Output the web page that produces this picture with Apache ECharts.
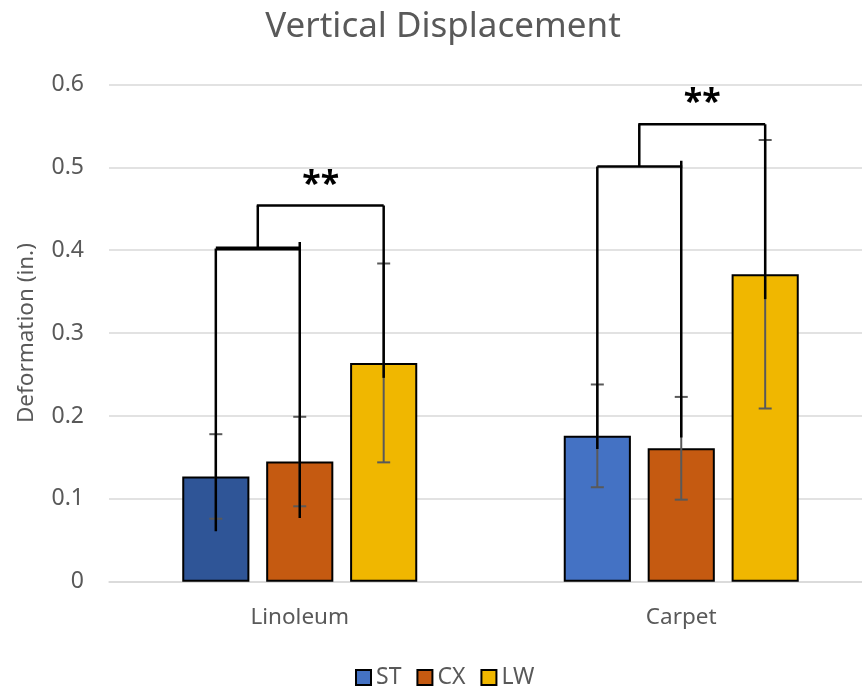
<!DOCTYPE html>
<html>
<head>
<meta charset="utf-8">
<script src="https://cdn.jsdelivr.net/npm/echarts@6/dist/echarts.min.js"></script>
<style>
  html, body { margin: 0; padding: 0; background: #ffffff; }
  #chart { width: 862px; height: 689px; }
</style>
</head>
<body>
<div id="chart"></div>
<script>
// Surface categories and series
const categories = ['Linoleum', 'Carpet'];
const seriesNames = ['ST', 'CX', 'LW'];

// Mean deformation (in.) per surface
const stValues = [0.127, 0.176];
const cxValues = [0.145, 0.161];
const lwValues = [0.264, 0.371];

// Standard deviations (error bar half-lengths)
const stErrors = [0.051, 0.062];
const cxErrors = [0.054, 0.062];
const lwErrors = [0.120, 0.162];

// Y axis ticks
const yTicks = [0, 0.1, 0.2, 0.3, 0.4, 0.5, 0.6];

// Significance brackets, one per surface (values in inches)
const legBottoms = [[0.061, 0.077, 0.246], [0.160, 0.174, 0.341]]; // lower ends of ST, CX, LW legs
const cxLegTops = [0.410, 0.508];   // CX leg pokes slightly above the join
const innerLevels = [0.402, 0.501]; // ST–CX join
const outerLevels = [0.454, 0.552]; // join to LW
const starLevels = [0.478, 0.577];
const starLabels = ['**', '**'];

// Bar layout (shared by bars, error bars and brackets)
const CAT_GAP = 0.384;
const BAR_GAP = 0.25;
const FONT = '"Noto Sans", "Open Sans", sans-serif';
const TEXT = '#595959';

const colors = ['#4472C4', '#C55A11', '#F0B700'];
const valuesBySeries = [stValues, cxValues, lwValues];
const errorsBySeries = [stErrors, cxErrors, lwErrors];

function barStep(api) {
  const band = api.size([1, 0])[0];
  const barW = band * (1 - CAT_GAP) / (3 + 2 * BAR_GAP);
  return barW * (1 + BAR_GAP);
}

const barSeries = seriesNames.map((name, s) => ({
  name: name,
  type: 'bar',
  barGap: (BAR_GAP * 100) + '%',
  barCategoryGap: (CAT_GAP * 100) + '%',
  itemStyle: { color: colors[s], borderColor: '#000000', borderWidth: 2 },
  data: valuesBySeries[s].map((v, c) => {
    // the ST bar on linoleum is drawn in a deeper blue
    if (s === 0 && c === 0) return { value: v, itemStyle: { color: '#2F5597' } };
    return v;
  }),
  z: 2
}));

// error bar data: [categoryIndex, seriesIndex, mean, sd]
const errorData = [];
seriesNames.forEach((n, s) => {
  categories.forEach((c, ci) => {
    errorData.push([ci, s, valuesBySeries[s][ci], errorsBySeries[s][ci]]);
  });
});

const errorSeries = {
  type: 'custom',
  name: 'errors',
  z: 3,
  silent: true,
  data: errorData,
  encode: { x: 0, y: 2 },
  renderItem: function (params, api) {
    const ci = api.value(0), s = api.value(1), m = api.value(2), e = api.value(3);
    const x = api.coord([ci, 0])[0] + (s - 1) * barStep(api);
    const yHi = api.coord([ci, m + e])[1];
    const yLo = api.coord([ci, m - e])[1];
    const cap = 6.5;
    const st = { stroke: '#595959', lineWidth: 2 };
    return {
      type: 'group',
      children: [
        { type: 'line', shape: { x1: x, y1: yHi, x2: x, y2: yLo }, style: st },
        { type: 'line', shape: { x1: x - cap, y1: yHi, x2: x + cap, y2: yHi }, style: st },
        { type: 'line', shape: { x1: x - cap, y1: yLo, x2: x + cap, y2: yLo }, style: st }
      ]
    };
  }
};

const innerStroke = [4, 2.5];

const bracketSeries = {
  type: 'custom',
  name: 'brackets',
  z: 4,
  silent: true,
  data: categories.map((c, i) => [i, outerLevels[i]]),
  encode: { x: 0, y: 1 },
  renderItem: function (params, api) {
    const i = api.value(0);
    const step = barStep(api);
    const c0 = api.coord([i, 0])[0];
    const xs = [c0 - step, c0, c0 + step];
    const Y = v => api.coord([i, v])[1];
    const mid = (xs[0] + xs[1]) / 2;
    const st = { stroke: '#000000', lineWidth: 2.5 };
    const yIn = Y(innerLevels[i]);
    const yOut = Y(outerLevels[i]);
    return {
      type: 'group',
      children: [
        { type: 'line', shape: { x1: xs[0], y1: yIn, x2: xs[0], y2: Y(legBottoms[i][0]) }, style: st },
        { type: 'line', shape: { x1: xs[1], y1: Y(cxLegTops[i]), x2: xs[1], y2: Y(legBottoms[i][1]) }, style: st },
        { type: 'line', shape: { x1: xs[0], y1: yIn, x2: xs[1] + 1, y2: yIn }, style: { stroke: '#000000', lineWidth: innerStroke[i] } },
        { type: 'line', shape: { x1: mid, y1: yIn, x2: mid, y2: yOut }, style: st },
        { type: 'line', shape: { x1: mid - 1, y1: yOut, x2: xs[2], y2: yOut }, style: st },
        { type: 'line', shape: { x1: xs[2], y1: yOut, x2: xs[2], y2: Y(legBottoms[i][2]) }, style: st },
        {
          type: 'text',
          style: {
            text: starLabels[i],
            x: (mid + xs[2]) / 2,
            y: Y(starLevels[i]),
            align: 'center',
            verticalAlign: 'middle',
            fill: '#000000',
            font: 'bold 34px ' + FONT
          }
        }
      ]
    };
  }
};

const chart = echarts.init(document.getElementById('chart'));
chart.setOption({
  animation: false,
  backgroundColor: '#ffffff',
  title: {
    text: 'Vertical Displacement',
    left: 438,
    textAlign: 'center',
    top: 5,
    textStyle: { fontFamily: FONT, fontSize: 35, fontWeight: 'normal', color: TEXT }
  },
  legend: {
    data: seriesNames,
    left: 350,
    top: 661,
    itemWidth: 15,
    itemHeight: 15,
    itemGap: 15,
    icon: 'rect',
    itemStyle: { borderColor: '#000000', borderWidth: 2 },
    textStyle: { fontFamily: FONT, fontSize: 23, color: TEXT }
  },
  grid: { left: 109, top: 84.5, width: 763, height: 497.2, outerBoundsMode: 'none' },
  xAxis: {
    type: 'category',
    data: categories,
    axisLine: { show: true, lineStyle: { color: '#D9D9D9', width: 1.5 } },
    axisTick: { show: false },
    axisLabel: { fontFamily: FONT, fontSize: 22.5, color: TEXT, margin: 24 }
  },
  yAxis: {
    type: 'value',
    min: yTicks[0],
    max: yTicks[yTicks.length - 1],
    interval: 0.1,
    name: 'Deformation (in.)',
    nameLocation: 'middle',
    nameGap: 71,
    nameTextStyle: { fontFamily: FONT, fontSize: 22.5, color: TEXT },
    axisLine: { show: false },
    axisTick: { show: false },
    axisLabel: {
      fontFamily: FONT, fontSize: 23, color: TEXT, margin: 25,
      formatter: v => (v === 0 ? '0' : v.toFixed(1))
    },
    splitLine: { lineStyle: { color: '#D9D9D9', width: 1.5 } }
  },
  series: [...barSeries, errorSeries, bracketSeries]
});
</script>
</body>
</html>
